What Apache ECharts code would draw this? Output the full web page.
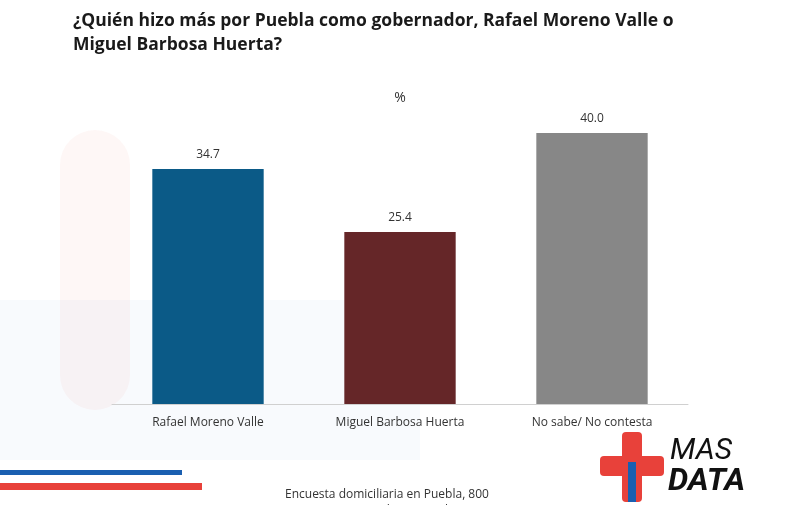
<!DOCTYPE html><html><head><meta charset="utf-8"><script src="https://cdn.jsdelivr.net/npm/echarts@6/dist/echarts.min.js"></script></head><body style="margin:0;background:#fff"><div id="c" style="width:800px;height:505px"></div><script>
const categories=['Rafael Moreno Valle','Miguel Barbosa Huerta','No sabe/ No contesta'];
const values=[34.7,25.4,40.0];
const colors=['#0b5a87','#652628','#878787'];
const ch=echarts.init(document.getElementById('c'));
ch.setOption({
title:[{text:'¿Quién hizo más por Puebla como gobernador, Rafael Moreno Valle o\nMiguel Barbosa Huerta?',left:68,top:4,textStyle:{fontFamily:'Open Sans',fontWeight:'bold',fontSize:17.5,color:'#1a1a1a',lineHeight:24}},
{text:'%',left:'center',top:86,textStyle:{fontFamily:'Open Sans',fontWeight:'normal',fontSize:14,color:'#333'}}],
graphic:[
{type:'rect',shape:{x:60,y:130,width:70,height:280,r:40},style:{fill:'rgba(240,120,100,0.06)'},z:-10},
{type:'rect',shape:{x:0,y:300,width:420,height:160},style:{fill:'rgba(120,150,220,0.05)'},z:-10},
{type:'rect',shape:{x:0,y:470,width:182,height:5},style:{fill:'#1a5fb0'}},
{type:'rect',shape:{x:0,y:483,width:202,height:7},style:{fill:'#e8413a'}},
{type:'rect',shape:{x:622,y:432,width:20,height:70,r:4},style:{fill:'#e8413a'}},
{type:'rect',shape:{x:600,y:456,width:64,height:20,r:4},style:{fill:'#e8413a'}},
{type:'rect',shape:{x:628,y:462,width:8,height:40},style:{fill:'#1a5fb0'}},
{type:'text',left:670,top:436,style:{text:'MAS',font:'italic 30px Roboto',fill:'#111'}},
{type:'text',left:668,top:466,style:{text:'DATA',font:'italic bold 32px Roboto',fill:'#111'}},
{type:'text',left:285,top:487,style:{text:'Encuesta domiciliaria en Puebla, 800\nentrevistas; 3.5% de error, julio 2022',font:'12px "Open Sans"',fill:'#333',lineHeight:16}}
],
grid:{left:112,right:112,top:133,bottom:101},
xAxis:{type:'category',data:categories,axisTick:{show:false},axisLine:{lineStyle:{color:'#d0d0d0'}},axisLabel:{fontFamily:'Open Sans',fontSize:12,color:'#333',margin:13}},
yAxis:{type:'value',min:0,max:40,show:false,splitLine:{show:false}},
series:[{type:'bar',barWidth:'58%',data:values.map((v,i)=>({value:v,itemStyle:{color:colors[i]}})),
label:{show:true,position:'top',formatter:p=>p.value.toFixed(1),fontFamily:'Open Sans',fontSize:12,color:'#333',distance:8}}]
});
</script></body></html>
